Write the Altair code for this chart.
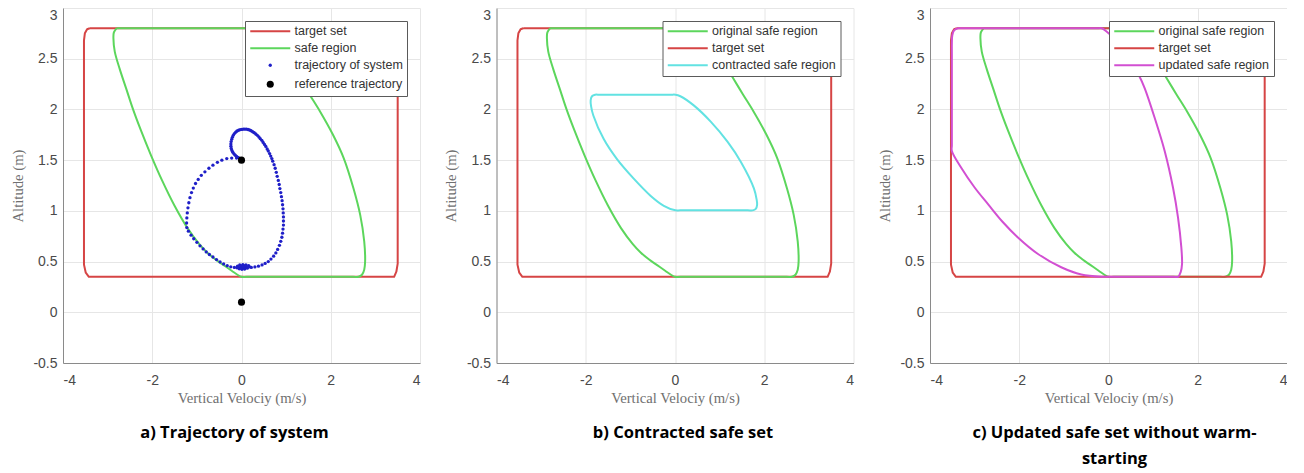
import altair as alt
import pandas as pd

# ---------------- axis ticks ----------------
X_TICKS = [-4, -2, 0, 2, 4]
Y_TICKS = [-0.5, 0, 0.5, 1, 1.5, 2, 2.5, 3]

# ---------------- target set (red rounded box) ----------------
TARGET_X = [-3.40, 3.40, 3.47, 3.50, 3.50, 3.47, 3.42, -3.42, -3.49, -3.53, -3.53, -3.51, -3.46, -3.40]
TARGET_Y = [2.80, 2.80, 2.77, 2.70, 0.48, 0.40, 0.35, 0.35, 0.39, 0.47, 2.68, 2.75, 2.79, 2.80]

# ---------------- original safe region (green) ----------------
SAFE_X = [-2.80, -2.86, -2.87, -2.84, -2.73, -2.58, -2.43, -2.26, -2.03, -1.78, -1.50, -1.21, -0.95,
          -0.77, -0.58, -0.40, -0.22, -0.09, 0.00, 0.12, 2.50, 2.62, 2.70, 2.75, 2.77, 2.75, 2.66,
          2.51, 2.29, 2.05, 1.76, 1.52, 1.30, 1.02, 0.76, 0.60, 0.52, 0.40, -2.70, -2.80]
SAFE_Y = [2.80, 2.76, 2.70, 2.57, 2.40, 2.20, 2.00, 1.80, 1.55, 1.30, 1.05, 0.83, 0.675,
          0.59, 0.52, 0.465, 0.41, 0.37, 0.35, 0.35, 0.35, 0.35, 0.37, 0.42, 0.50, 0.70, 0.96,
          1.22, 1.52, 1.75, 1.98, 2.15, 2.31, 2.51, 2.69, 2.78, 2.80, 2.80, 2.80, 2.80]

# ---------------- contracted safe region (cyan) ----------------
CONTRACT_X = [-0.90, -1.68, -1.79, -1.86, -1.89, -1.88, -1.83, -1.60, -1.30, -0.93, -0.55, -0.25,
              0.01, 0.12, 1.63, 1.74, 1.81, 1.84, 1.83, 1.77, 1.48, 1.18, 0.80, 0.42, 0.12, 0.01,
              -0.10, -0.90]
CONTRACT_Y = [2.145, 2.145, 2.145, 2.13, 2.09, 2.03, 1.94, 1.71, 1.51, 1.32, 1.15, 1.05,
              1.005, 1.005, 1.005, 1.005, 1.02, 1.06, 1.11, 1.22, 1.48, 1.68, 1.88, 2.04, 2.13, 2.145,
              2.145, 2.145]

# ---------------- updated safe region (magenta) ----------------
UPDATED_X = [-1.80, -3.27, -3.37, -3.46, -3.50, -3.51, -3.51, -3.51, -3.51, -3.30, -3.00, -2.70,
             -2.38, -2.03, -1.58, -1.06, -0.61, -0.16, -0.04, 1.45, 1.56, 1.62, 1.648, 1.632,
             1.558, 1.446, 1.26, 1.036, 0.81, 0.70, 0.42, 0.12, -0.05, -0.15, -0.27, -1.80]
UPDATED_Y = [2.80, 2.80, 2.80, 2.78, 2.73, 2.65, 2.55, 1.65, 1.59, 1.425, 1.23, 1.066,
             0.895, 0.738, 0.575, 0.444, 0.373, 0.35, 0.35, 0.35, 0.35, 0.40, 0.477, 0.640,
             0.934, 1.228, 1.588, 1.915, 2.21, 2.32, 2.52, 2.70, 2.77, 2.80, 2.80, 2.80]

# ---------------- trajectory of system (blue dots) ----------------
TRAJ_LEFT_X = [-0.11, -0.22, -0.33, -0.44, -0.54, -0.64, -0.73, -0.82, -0.90, -0.97, -1.03, -1.08,
               -1.12, -1.155, -1.18, -1.20, -1.215, -1.225, -1.23, -1.225, -1.19, -1.13, -1.07,
               -1.00, -0.93, -0.86, -0.79, -0.72, -0.64, -0.56, -0.48, -0.40, -0.32, -0.24, -0.16]
TRAJ_LEFT_Y = [1.52, 1.52, 1.515, 1.50, 1.478, 1.45, 1.42, 1.385, 1.35, 1.31, 1.27, 1.225,
               1.18, 1.13, 1.08, 1.03, 0.98, 0.93, 0.88, 0.835, 0.80, 0.76, 0.725,
               0.69, 0.655, 0.625, 0.595, 0.57, 0.545, 0.52, 0.497, 0.477, 0.46, 0.448, 0.442]
TRAJ_SETTLE_X = [-0.10, -0.05, 0.01, 0.07, 0.13, 0.18, 0.16, 0.10, 0.03, -0.04, -0.09, -0.07,
                 -0.01, 0.05, 0.11, 0.09, 0.04, -0.01, 0.01, 0.05, 0.03]
TRAJ_SETTLE_Y = [0.438, 0.428, 0.424, 0.427, 0.435, 0.447, 0.46, 0.468, 0.47, 0.466, 0.455, 0.443,
                 0.436, 0.438, 0.447, 0.458, 0.462, 0.455, 0.447, 0.449, 0.452]
TRAJ_RIGHT_X = [0.22, 0.30, 0.38, 0.46, 0.53, 0.60, 0.66, 0.72, 0.77, 0.81, 0.85, 0.88, 0.905, 0.92,
                0.93, 0.94, 0.94, 0.94, 0.935, 0.93, 0.92, 0.91, 0.895, 0.88, 0.86, 0.845, 0.825,
                0.80, 0.78, 0.755, 0.73, 0.70]
TRAJ_RIGHT_Y = [0.442, 0.447, 0.455, 0.467, 0.482, 0.50, 0.525, 0.553, 0.585, 0.62, 0.66, 0.70, 0.74,
                0.78, 0.82, 0.86, 0.90, 0.94, 0.98, 1.02, 1.06, 1.10, 1.14, 1.18, 1.22, 1.26, 1.30,
                1.34, 1.38, 1.42, 1.455, 1.49]
TRAJ_CURL_X = [0.68, 0.655, 0.63, 0.60, 0.575, 0.545, 0.515, 0.485, 0.455, 0.42, 0.39, 0.355, 0.32,
               0.285, 0.25, 0.215, 0.18, 0.145, 0.11, 0.075, 0.04, 0.005, -0.03, -0.065, -0.10,
               -0.13, -0.16, -0.185, -0.205, -0.22, -0.232, -0.238, -0.237, -0.23, -0.215, -0.195,
               -0.17, -0.14, -0.11, -0.08, -0.05, -0.025, -0.01]
TRAJ_CURL_Y = [1.515, 1.54, 1.565, 1.59, 1.61, 1.635, 1.655, 1.675, 1.695, 1.712, 1.728, 1.745, 1.758,
               1.77, 1.78, 1.79, 1.797, 1.802, 1.805, 1.806, 1.805, 1.803, 1.80, 1.795, 1.787,
               1.776, 1.762, 1.745, 1.725, 1.705, 1.683, 1.66, 1.637, 1.615, 1.595, 1.578,
               1.562, 1.548, 1.537, 1.527, 1.52, 1.515, 1.512]

# ---------------- reference trajectory (black dots) ----------------
REF_X = [0.0, 0.0]
REF_Y = [1.5, 0.1]

# ---------------- styling ----------------
RED = "#d64545"
GREEN = "#5cd65c"
CYAN = "#62e2e2"
MAGENTA = "#d24fd2"
BLUE = "#1f1fc8"
BLACK = "#000000"

W, H = 357, 355
LINE_SYMBOL = "M-4,0L4,0"


def curve(xs, ys, name):
    return pd.DataFrame({"x": xs, "y": ys, "series": name, "idx": list(range(len(xs)))})


def x_enc():
    return alt.X("x:Q", scale=alt.Scale(domain=[-4, 4], nice=False, zero=False),
                 axis=alt.Axis(values=X_TICKS, title="Vertical Velociy (m/s)",
                               labelExpr="'' + datum.value", labelPadding=10, titlePadding=3,
                               ticks=False, tickSize=0))


def y_enc():
    return alt.Y("y:Q", scale=alt.Scale(domain=[-0.5, 3], nice=False, zero=False),
                 axis=alt.Axis(values=Y_TICKS, title="Altitude (m)",
                               labelExpr="'' + datum.value", labelPadding=6, titlePadding=6,
                               minExtent=32, maxExtent=32, ticks=False, tickSize=0,
                               labelBaseline={"condition": {"test": "datum.value == 3", "value": "top"},
                                              "value": "middle"}))


def legend_params(**extra):
    base = dict(title=None, orient="top-right", offset=13, fillColor="white", strokeColor="#5a5a5a",
                padding=4, labelFont="Liberation Sans", labelFontSize=12.5, labelColor="#333333",
                symbolSize=100, symbolStrokeWidth=2, symbolOffset=15, labelOffset=18, rowPadding=4)
    base.update(extra)
    return alt.Legend(**base)


def line_layer(df, domain, colors, legend, interp="catmull-rom"):
    return alt.Chart(df).mark_line(strokeWidth=2, strokeJoin="round", interpolate=interp).encode(
        x=x_enc(), y=y_enc(),
        color=alt.Color("series:N", scale=alt.Scale(domain=domain, range=colors), legend=legend),
        order=alt.Order("idx:Q"),
    )


def plain_line(df, color, interp="catmull-rom"):
    return alt.Chart(df).mark_line(strokeWidth=2, strokeJoin="round", interpolate=interp,
                                   color=color).encode(
        x=x_enc(), y=y_enc(), order=alt.Order("idx:Q"))


def panel_title(text, dx):
    return alt.TitleParams(text=text, orient="bottom", anchor="middle", frame="group",
                           font="Open Sans", fontSize=16.5, fontWeight="bold", color="#000000",
                           offset=20, dx=dx, lineHeight=26)


# ---------------- panel a ----------------
DOM_A = ["target set", "safe region", "trajectory of system", "reference trajectory"]
COL_A = [RED, GREEN, BLUE, BLACK]
SHAPE_A = [LINE_SYMBOL, LINE_SYMBOL, "circle", "circle"]
SIZE_A = [100, 100, 11, 50]

traj_df = pd.DataFrame({
    "x": TRAJ_LEFT_X + TRAJ_SETTLE_X + TRAJ_RIGHT_X + TRAJ_CURL_X,
    "y": TRAJ_LEFT_Y + TRAJ_SETTLE_Y + TRAJ_RIGHT_Y + TRAJ_CURL_Y,
})
traj_df["series"] = "trajectory of system"
ref_df = pd.DataFrame({"x": REF_X, "y": REF_Y})
ref_df["series"] = "reference trajectory"

legend_a = legend_params(symbolStrokeColor={
    "expr": "datum.value == 'target set' ? '%s' : (datum.value == 'safe region' ? '%s' : 'transparent')"
            % (RED, GREEN)})


def point_layer(df, legend):
    return alt.Chart(df).mark_point(filled=True, opacity=1).encode(
        x=x_enc(), y=y_enc(),
        color=alt.Color("series:N", scale=alt.Scale(domain=DOM_A, range=COL_A), legend=legend),
        shape=alt.Shape("series:N", scale=alt.Scale(domain=DOM_A, range=SHAPE_A), legend=legend),
        size=alt.Size("series:N", scale=alt.Scale(type="ordinal", domain=DOM_A, range=SIZE_A), legend=legend),
    )


panel_a = alt.layer(
    plain_line(curve(TARGET_X, TARGET_Y, "target set"), RED, "linear"),
    plain_line(curve(SAFE_X, SAFE_Y, "safe region"), GREEN),
    point_layer(traj_df, legend_a),
    point_layer(ref_df, None),
).properties(width=W, height=H, title=panel_title("a) Trajectory of system", -7))

# ---------------- panel b ----------------
DOM_B = ["original safe region", "target set", "contracted safe region"]
COL_B = [GREEN, RED, CYAN]
panel_b = alt.layer(
    line_layer(curve(TARGET_X, TARGET_Y, "target set"), DOM_B, COL_B,
               legend_params(symbolType=LINE_SYMBOL), "linear"),
    line_layer(curve(SAFE_X, SAFE_Y, "original safe region"), DOM_B, COL_B, None),
    line_layer(curve(CONTRACT_X, CONTRACT_Y, "contracted safe region"), DOM_B, COL_B, None),
).properties(width=W, height=H, title=panel_title("b) Contracted safe set", 8))

# ---------------- panel c ----------------
DOM_C = ["original safe region", "target set", "updated safe region"]
COL_C = [GREEN, RED, MAGENTA]
panel_c = alt.layer(
    line_layer(curve(SAFE_X, SAFE_Y, "original safe region"), DOM_C, COL_C,
               legend_params(symbolType=LINE_SYMBOL)),
    line_layer(curve(TARGET_X, TARGET_Y, "target set"), DOM_C, COL_C, None, "linear"),
    line_layer(curve(UPDATED_X, UPDATED_Y, "updated safe region"), DOM_C, COL_C, None),
).properties(width=W, height=H,
             title=panel_title(["c) Updated safe set without warm-", "starting"], 6))

chart = alt.hconcat(panel_a, panel_b, panel_c, spacing=23.5).resolve_scale(
    color="independent", shape="independent", size="independent", x="independent", y="independent"
).properties(
    padding={"left": 2, "top": 0, "right": 0, "bottom": 0}, background="white"
).configure_view(stroke=None).configure_axis(
    grid=True, gridColor="#e6e6e6", gridWidth=1, domainColor="#8a8a8a", domainWidth=1,
    labelFont="Liberation Sans", labelFontSize=14, labelColor="#4a4a4a",
    titleFont="Liberation Serif", titleFontSize=14.7, titleFontWeight="normal", titleColor="#707070",
)

chart.save("out.html", embed_options={"renderer": "svg", "actions": False})
